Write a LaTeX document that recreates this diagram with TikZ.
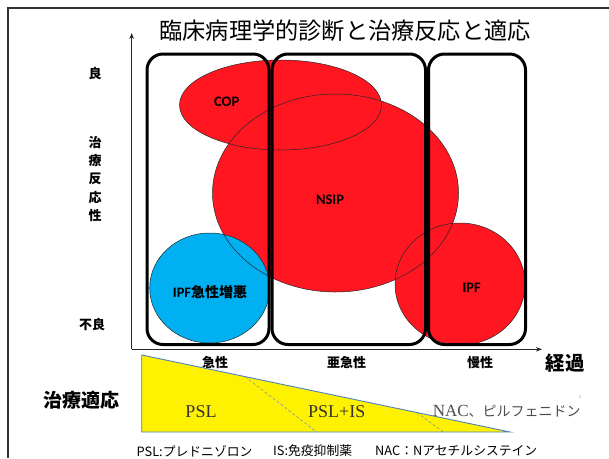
\documentclass[tikz,border=0pt]{standalone}
\usepackage{fontspec}
\setmainfont{Liberation Serif}
\newfontfamily\cjk{Noto Sans CJK JP}
\newfontfamily\lat{Carlito}
\usetikzlibrary{arrows.meta}
\definecolor{myred}{RGB}{255,22,32}
\definecolor{myblue}{RGB}{0,176,240}
\definecolor{triblue}{RGB}{79,129,189}
\definecolor{dashcol}{RGB}{110,140,170}
\tikzset{
  rrect/.style={draw=black, line width=3pt, rounded corners=16pt},
  blob/.style={draw=black!85, line width=0.5pt},
  axis/.style={draw=black!85, line width=1.2pt, -{Stealth[length=6pt,width=4.5pt]}},
  elab/.style={font=\lat\bfseries\fontsize{14.5}{16}\selectfont, inner sep=0pt},
  jlab/.style={font=\cjk\bfseries\fontsize{13}{15}\selectfont, inner sep=0pt},
  trilab/.style={font=\fontsize{18}{20}\selectfont, text=black!80, inner sep=0pt},
  legend/.style={font=\cjk\fontsize{12.8}{14}\selectfont, anchor=west, inner sep=0pt},
  dashln/.style={draw=dashcol, line width=0.5pt, dash pattern=on 3pt off 2pt}
}
\begin{document}
\begin{tikzpicture}[x=1pt,y=-1pt]
\useasboundingbox (0,0) rectangle (609,458);
% frame
\draw[line width=1.3pt, draw=black!80] (8,458) -- (8,8) -- (609,8);
% title
\node[font=\cjk\fontsize{23.2}{25}\selectfont, inner sep=0pt] (title) at (345,31) {臨床病理学的診断と治療反応と適応};
% ellipse fills
\path[fill=myred] (280.5,105) ellipse [x radius=101pt, y radius=45pt];
\path[fill=myred] (335.5,193) ellipse [x radius=123pt, y radius=99pt];
\path[fill=myred] (460,284) ellipse [x radius=65pt, y radius=61pt];
\path[fill=myblue] (209.7,288) ellipse [x radius=60pt, y radius=55pt];
% ellipse outlines
\path[blob] (280.5,105) ellipse [x radius=101pt, y radius=45pt];
\path[blob] (335.5,193) ellipse [x radius=123pt, y radius=99pt];
\path[blob] (460,284) ellipse [x radius=65pt, y radius=61pt];
\path[blob] (209.7,288) ellipse [x radius=60pt, y radius=55pt];
% labels
\node[elab] (cop) at (226.7,101.7) {COP};
\node[elab] (nsip) at (330,200) {NSIP};
\node[elab] (ipf) at (471.7,288) {IPF};
\node[elab] (ipfae) at (210,292) {IPF{\cjk\bfseries\fontsize{14}{16}\selectfont 急性増悪}};
% rounded rectangles
\draw[rrect] (147,54) rectangle (269,344.5);
\draw[rrect] (272,54) rectangle (425.5,344.5);
\draw[rrect] (428.5,54) rectangle (525.5,344.5);
% axes
\coordinate (O) at (131.7,349.3);
\coordinate (ytop) at (131.7,33);
\coordinate (xend) at (542,349.3);
\draw[axis] (O) -- (ytop);
\draw[axis] (O) -- (xend);
% axis labels
\node[jlab] (good) at (95,74) {良};
\node[jlab, align=center, font=\cjk\bfseries\fontsize{13}{18.2}\selectfont] (resp) at (95,179) {治\\療\\反\\応\\性};
\node[jlab] (bad) at (92,325) {不良};
\node[jlab] (acute) at (215,362.3) {急性};
\node[jlab] (subacute) at (346.7,362.3) {亜急性};
\node[jlab] (chronic) at (480,362.3) {慢性};
\node[font=\cjk\bfseries\fontsize{19.5}{21}\selectfont, inner sep=0pt] (course) at (565,363) {経過};
\node[font=\cjk\bfseries\fontsize{19}{21}\selectfont, inner sep=0pt] (indic) at (81.5,400.5) {治療適応};
% triangle
\coordinate (TA) at (141.7,355);
\coordinate (TB) at (141.7,432);
\coordinate (TC) at (510,432);
\draw[fill=yellow, draw=triblue, line width=0.9pt] (TA) -- (TB) -- (TC) -- cycle;
\coordinate (d1a) at (245,376.6);
\coordinate (d1b) at (316.7,432);
\coordinate (d2a) at (416.7,412.4);
\coordinate (d2b) at (443.3,432);
\draw[dashln] (d1a) -- (d1b);
\draw[dashln] (d2a) -- (d2b);
\node[trilab] (psl) at (201,411.7) {PSL};
\node[trilab] (pslis) at (336.7,411.7) {PSL+IS};
\node[trilab, text=black!70] (nac) at (506.7,411) {\fontsize{17}{20}\selectfont NAC{\cjk\fontsize{14}{16}\selectfont 、ピルフェニドン}};
\node[font=\fontsize{5}{6}\selectfont, text=black!35, inner sep=0pt] (pg) at (580,397) {2};
% legend
\node[legend] (l1) at (136.5,451) {PSL:プレドニゾロン};
\node[legend] (l2) at (273,451) {IS:免疫抑制薬};
\node[legend] (l3) at (375,451) {NAC：Nアセチルシステイン};
\end{tikzpicture}
\end{document}
